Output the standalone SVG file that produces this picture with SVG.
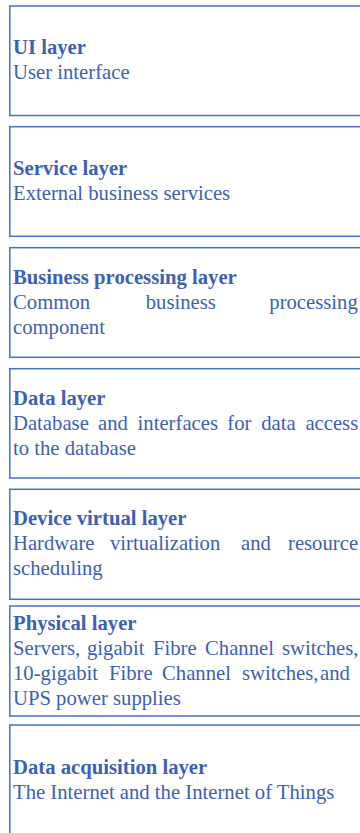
<svg xmlns="http://www.w3.org/2000/svg" width="360" height="833" viewBox="0 0 360 833">
<style>
.box{fill:#ffffff;stroke:#4472c4;stroke-width:1.5}
.t{font-family:"Liberation Serif","Times New Roman",serif;font-size:20.7px;fill:#3d60b3}
.b{font-weight:bold}
</style>
<rect x="0" y="0" width="360" height="833" fill="#ffffff"/>
<g id="ui-layer">
<rect class="box" x="9.8" y="6" width="360" height="109.5"/>
<text class="t b" x="13" y="54">UI layer</text>
<text class="t" x="13" y="79">User interface</text>
</g>
<g id="service-layer">
<rect class="box" x="9.8" y="126.7" width="360" height="109.6"/>
<text class="t b" x="13" y="175">Service layer</text>
<text class="t" x="13" y="200">External business services</text>
</g>
<g id="business-processing-layer">
<rect class="box" x="9.8" y="247.7" width="360" height="109.6"/>
<text class="t b" x="13" y="283.5">Business processing layer</text>
<text class="t" y="308.5"><tspan x="13">Common</tspan><tspan x="145.7">business</tspan><tspan x="269.3">processing</tspan></text>
<text class="t" x="13" y="333.5">component</text>
</g>
<g id="data-layer">
<rect class="box" x="9.8" y="368.7" width="360" height="109.3"/>
<text class="t b" x="13" y="404.5">Data layer</text>
<text class="t" y="429.5"><tspan x="13">Database</tspan><tspan x="98">and</tspan><tspan x="137.6">interfaces</tspan><tspan x="227.3">for</tspan><tspan x="261.2">data</tspan><tspan x="305.4">access</tspan></text>
<text class="t" x="13" y="454.5">to the database</text>
</g>
<g id="device-virtual-layer">
<rect class="box" x="9.8" y="489.3" width="360" height="110"/>
<text class="t b" x="13" y="525">Device virtual layer</text>
<text class="t" y="550"><tspan x="13">Hardware</tspan><tspan x="110">virtualization</tspan><tspan x="241">and</tspan><tspan x="288">resource</tspan></text>
<text class="t" x="13" y="575">scheduling</text>
</g>
<g id="physical-layer">
<rect class="box" x="9.8" y="606" width="360" height="110"/>
<text class="t b" x="13" y="630">Physical layer</text>
<text class="t" y="654.5"><tspan x="13">Servers,</tspan><tspan x="87">gigabit</tspan><tspan x="153">Fibre</tspan><tspan x="205">Channel</tspan><tspan x="282">switches,</tspan></text>
<text class="t" y="680"><tspan x="13">10-gigabit</tspan><tspan x="109">Fibre</tspan><tspan x="162">Channel</tspan><tspan x="242">switches,</tspan><tspan x="320">and</tspan></text>
<text class="t" x="13" y="705">UPS power supplies</text>
</g>
<g id="data-acquisition-layer">
<rect class="box" x="9.8" y="725" width="360" height="120"/>
<text class="t b" x="13" y="773.5">Data acquisition layer</text>
<text class="t" x="13" y="798.5">The Internet and the Internet of Things</text>
</g>
<g id="connectors"></g>
</svg>
